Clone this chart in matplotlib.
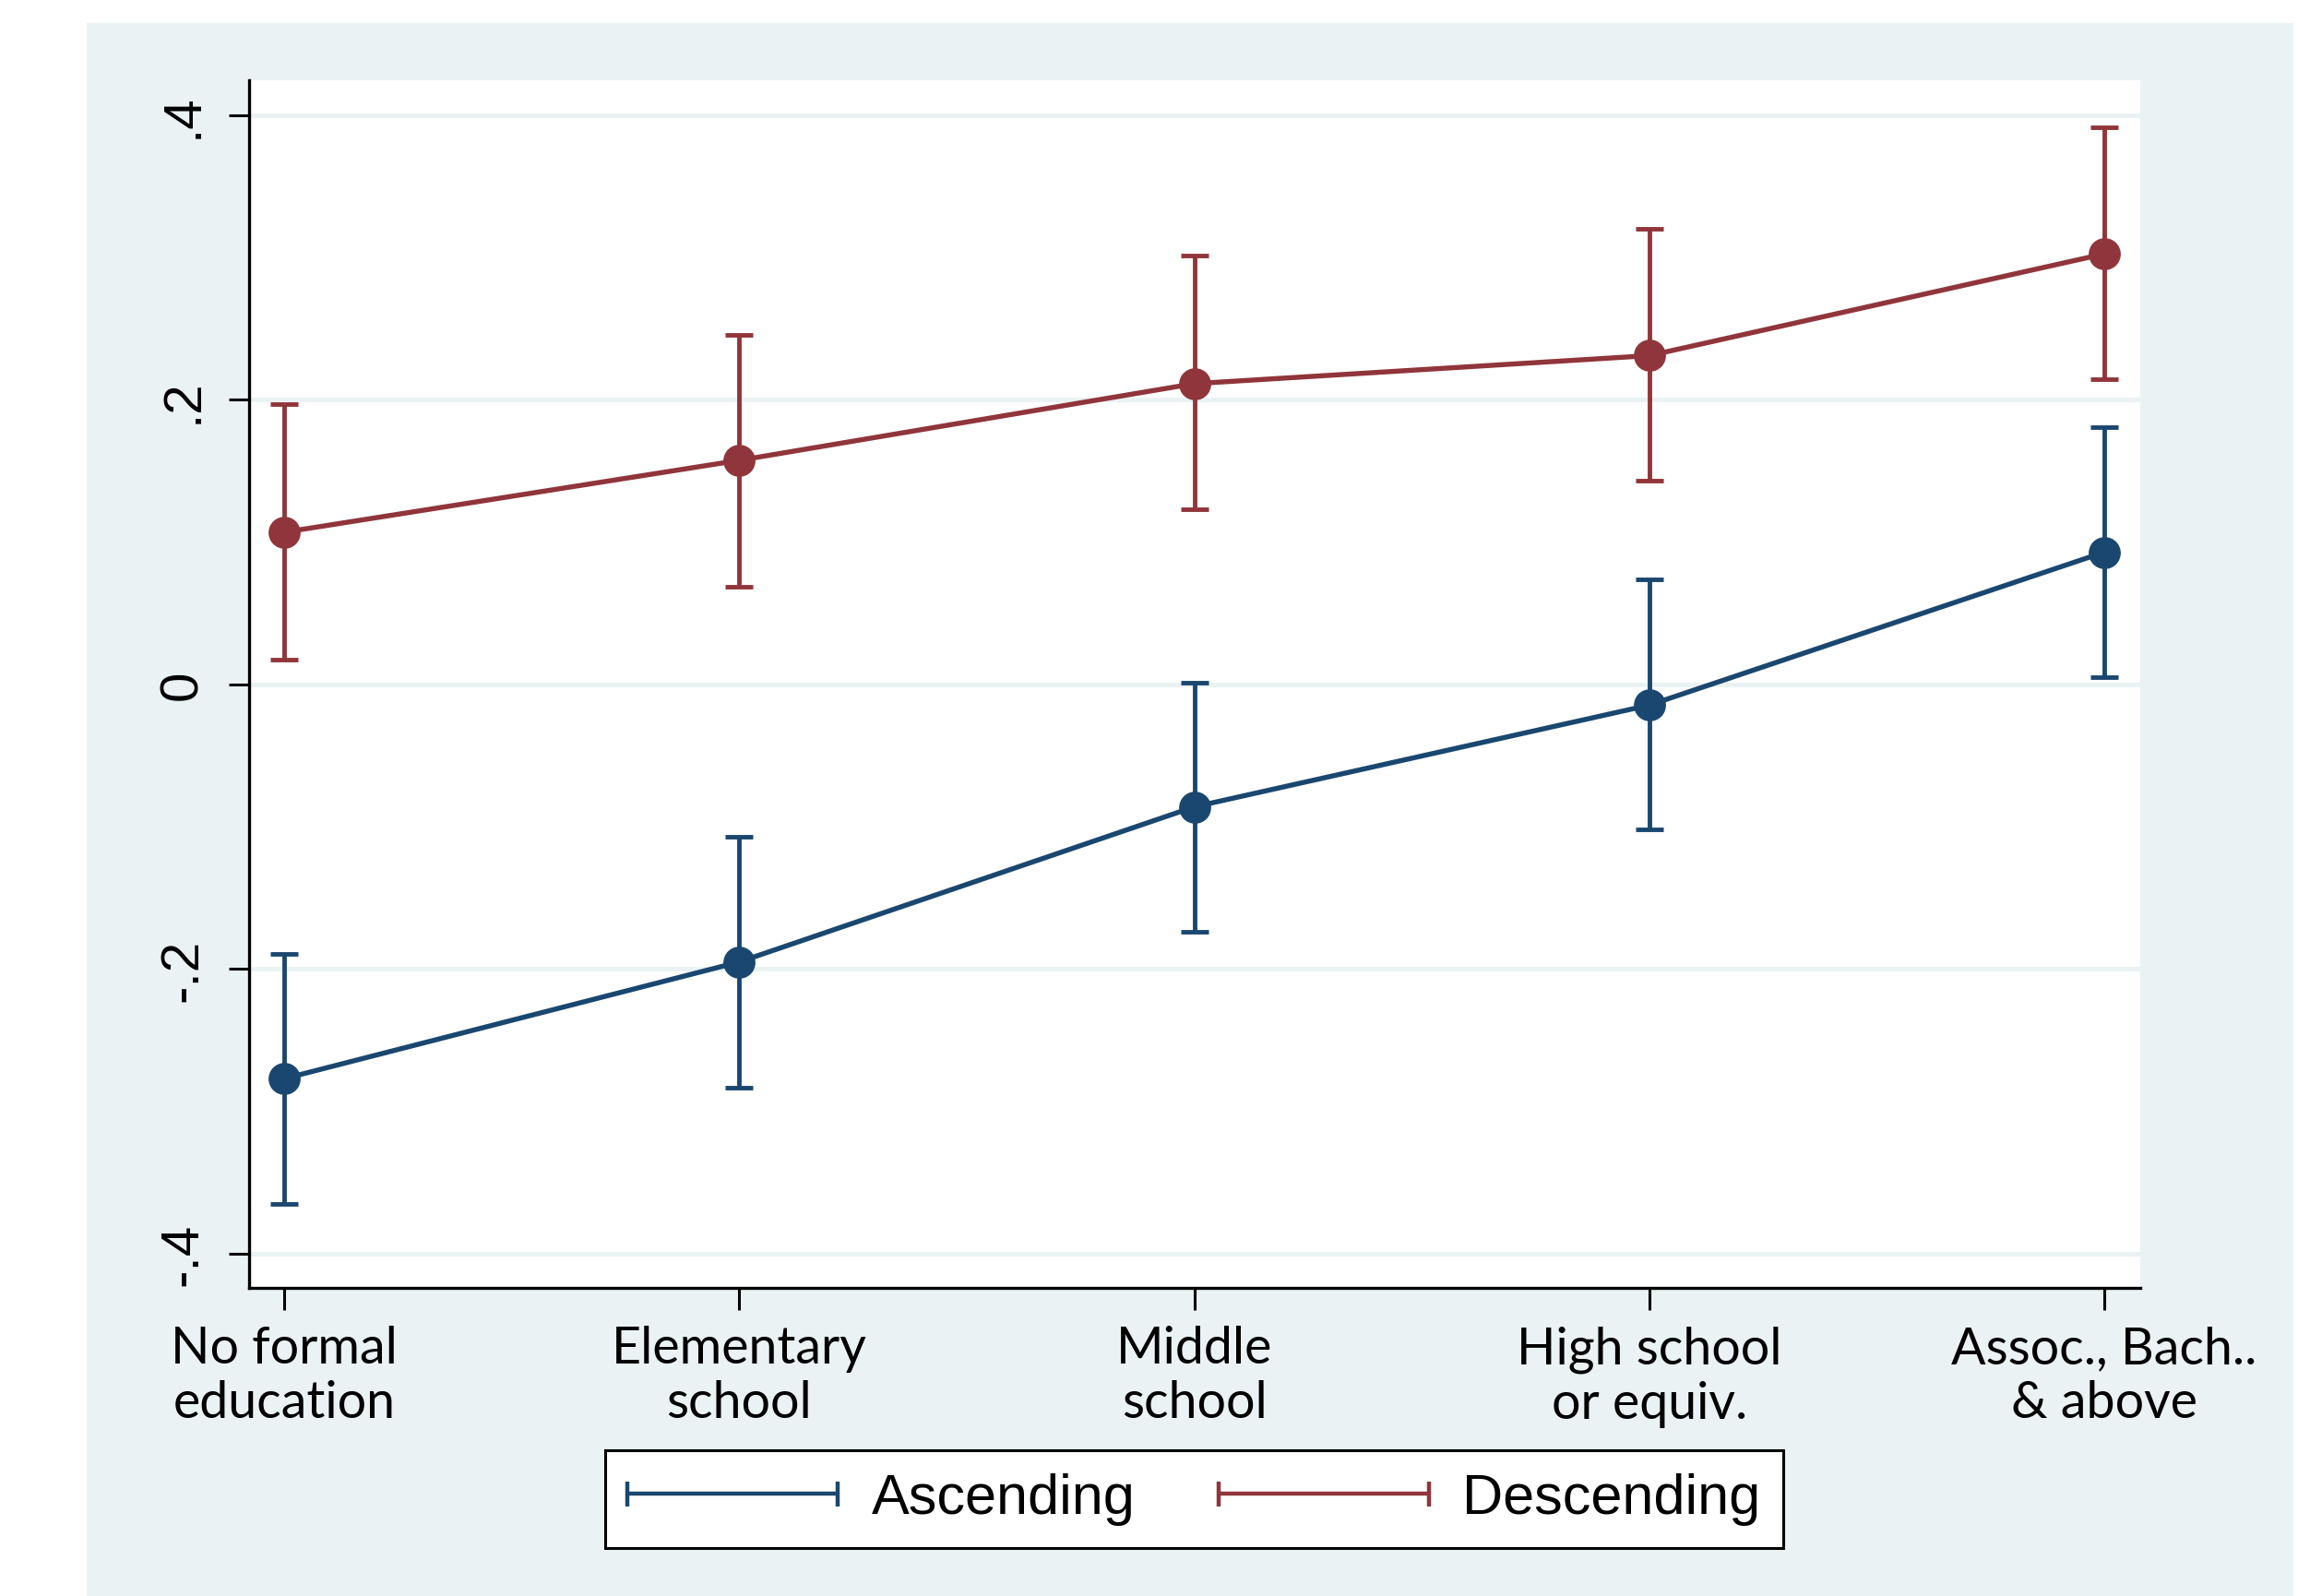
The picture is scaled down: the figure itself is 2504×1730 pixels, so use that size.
import matplotlib
matplotlib.use("Agg")
import matplotlib.pyplot as plt
import numpy as np
from matplotlib.patches import Rectangle
from matplotlib.lines import Line2D
from matplotlib.legend_handler import HandlerBase

# ---------------- data ----------------
categories = ["No formal\neducation", "Elementary\nschool", "Middle\nschool",
              "High school\nor equiv.", "Assoc., Bach..\n& above"]
asc_est = [-0.277, -0.195, -0.086, -0.0145, 0.093]
asc_lo = [-0.365, -0.283, -0.174, -0.1016, 0.0052]
asc_hi = [-0.1896, -0.1067, 0.001, 0.0736, 0.181]
desc_est = [0.107, 0.1575, 0.2114, 0.2311, 0.3026]
desc_lo = [0.0176, 0.0684, 0.1233, 0.143, 0.2145]
desc_hi = [0.197, 0.2456, 0.3016, 0.3202, 0.3917]
series_names = ["Ascending", "Descending"]
ytick_vals = [-0.4, -0.2, 0.0, 0.2, 0.4]
ytick_labels = ["-.4", "-.2", "0", ".2", ".4"]

# ---------------- style ----------------
W, H = 2504, 1731
BG = "#eaf2f3"
NAVY = "#1a476f"
MAROON = "#90353b"

fig = plt.figure(figsize=(W / 100, H / 100), dpi=100)
fig.patch.set_facecolor("white")
fig.add_artist(Rectangle((94 / W, 0), (2486 - 94) / W, (H - 26) / H,
                         transform=fig.transFigure, facecolor=BG,
                         edgecolor="none", zorder=-10))

ax = fig.add_axes([270 / W, 1 - 1397 / H, (2320 - 270) / W, (1397 - 88) / H])
ax.set_facecolor("white")

x = np.arange(len(categories))

for est, lo, hi, col in [(asc_est, asc_lo, asc_hi, NAVY),
                         (desc_est, desc_lo, desc_hi, MAROON)]:
    est = np.array(est); lo = np.array(lo); hi = np.array(hi)
    ax.errorbar(x, est, yerr=[est - lo, hi - est], fmt="o-", color=col,
                ms=24, lw=3.9, elinewidth=3.5, capsize=11, capthick=3.5,
                zorder=3)

ax.set_xlim(-0.077, 4.079)
ax.set_ylim(-0.424, 0.4246)
ax.set_yticks(ytick_vals)
ax.set_yticklabels(ytick_labels, rotation=90, va="center",
                   fontsize=42, family=["Liberation Sans", "DejaVu Sans"])
ax.set_xticks(x)
ax.set_xticklabels(categories, fontsize=40, family=["Lato", "DejaVu Sans"],
                   linespacing=1.2)

ax.grid(axis="y", color=BG, lw=3.6, zorder=0)
ax.set_axisbelow(True)

for s in ["top", "right"]:
    ax.spines[s].set_visible(False)
for s in ["left", "bottom"]:
    ax.spines[s].set_linewidth(2.4)
    ax.spines[s].set_color("black")

ax.tick_params(axis="y", length=16, width=2.2, pad=16)
ax.tick_params(axis="x", length=17, width=2.2, pad=12)


# ---------------- legend ----------------
class CapHandler(HandlerBase):
    def create_artists(self, legend, orig_handle, xdescent, ydescent,
                       width, height, fontsize, trans):
        c = orig_handle.get_color()
        y = height / 2 - ydescent
        x0 = -xdescent
        x1 = x0 + width
        h = 0.22 * fontsize
        kw = dict(color=c, lw=3.2, transform=trans, solid_capstyle="butt")
        return [Line2D([x0, x1], [y, y], **kw),
                Line2D([x0, x0], [y - h, y + h], **kw),
                Line2D([x1, x1], [y - h, y + h], **kw)]


handles = [Line2D([], [], color=NAVY), Line2D([], [], color=MAROON)]
leg = fig.legend(handles, series_names, loc="center",
                 bbox_to_anchor=(1294.5 / W, 1 - 1626 / H), ncol=2,
                 prop={"family": ["Liberation Sans", "DejaVu Sans"], "size": 44},
                 handler_map={Line2D: CapHandler()},
                 handlelength=3.73, handletextpad=0.59, columnspacing=1.49,
                 borderpad=0.4, fancybox=False, frameon=True)
leg.get_frame().set_edgecolor("black")
leg.get_frame().set_linewidth(2.2)
leg.get_frame().set_facecolor("white")
leg.get_frame().set_alpha(1)

fig.savefig("out.png", dpi=100)
